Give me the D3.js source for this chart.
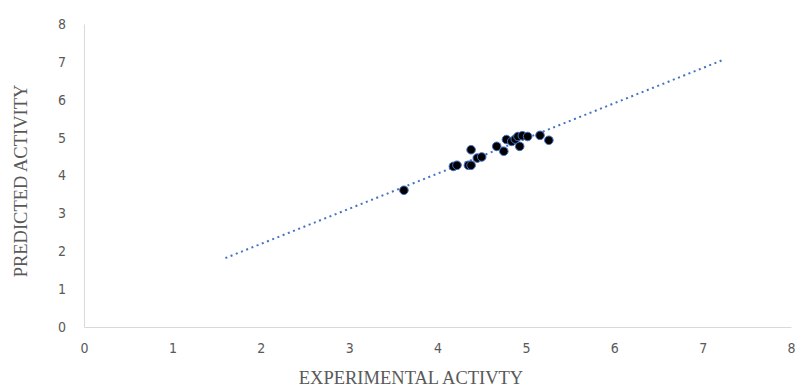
<!DOCTYPE html>
<html>
<head>
<meta charset="utf-8">
<script src="https://cdn.jsdelivr.net/npm/d3@7"></script>
<style>
  body { margin: 0; background: #fff; }
  .tick text { fill: #595959; font-family: "Liberation Sans Narrow", "DejaVu Sans Condensed", sans-serif; font-size: 14px; }
  .title { fill: #595959; font-family: "Liberation Serif", serif; font-size: 18.5px; }
</style>
</head>
<body>
<script>
// experimental vs predicted activity
var experimental = [3.62, 4.18, 4.22, 4.35, 4.38, 4.38, 4.45, 4.50, 4.67, 4.75, 4.78, 4.84, 4.88, 4.91, 4.93, 4.96, 5.02, 5.16, 5.26];
var predicted    = [3.61, 4.24, 4.27, 4.27, 4.27, 4.68, 4.46, 4.49, 4.77, 4.64, 4.95, 4.90, 4.96, 5.03, 4.77, 5.05, 5.03, 5.06, 4.93];

// linear trendline as shown, with forecast range
var trendSlope = 0.929, trendIntercept = 0.334;
var trendRange = [1.6, 7.22];

var xTicks = [0, 1, 2, 3, 4, 5, 6, 7, 8];
var yTicks = [0, 1, 2, 3, 4, 5, 6, 7, 8];

var W = 795, H = 389;
var margin = {top: 24, right: 4, bottom: 62, left: 84};
var width = W - margin.left - margin.right,
    height = H - margin.top - margin.bottom;

var x = d3.scaleLinear().domain([0, 8]).range([0, width]);
var y = d3.scaleLinear().domain([0, 8]).range([height, 0]);

var svg = d3.select("body").append("svg")
  .attr("width", W).attr("height", H);
var g = svg.append("g")
  .attr("transform", "translate(" + margin.left + "," + margin.top + ")");

// axes
var xAxis = g.append("g")
  .attr("transform", "translate(0," + height + ")")
  .call(d3.axisBottom(x).tickValues(xTicks).tickSize(0).tickPadding(16));
var yAxis = g.append("g")
  .call(d3.axisLeft(y).tickValues(yTicks).tickSize(0).tickPadding(18));
xAxis.select(".domain").attr("stroke", "#d9d9d9");
yAxis.select(".domain").attr("stroke", "#d9d9d9");

// trendline
var trend = trendRange.map(function(v) { return [v, trendSlope * v + trendIntercept]; });
g.append("path")
  .datum(trend)
  .attr("fill", "none")
  .attr("stroke", "#4472c4")
  .attr("stroke-width", 2)
  .attr("stroke-dasharray", "2 3.6")
  .attr("d", d3.line().x(function(d) { return x(d[0]); }).y(function(d) { return y(d[1]); }));

// points
g.selectAll("circle")
  .data(experimental)
  .enter().append("circle")
  .attr("cx", function(d) { return x(d); })
  .attr("cy", function(d, i) { return y(predicted[i]); })
  .attr("r", 4.3)
  .attr("fill", "#000")
  .attr("stroke", "#4472c4")
  .attr("stroke-width", 1);

// axis titles
svg.append("text").attr("class", "title")
  .attr("x", 411).attr("y", 384)
  .attr("text-anchor", "middle")
  .text("EXPERIMENTAL ACTIVTY");
svg.append("text").attr("class", "title")
  .attr("transform", "translate(27,181) rotate(-90)")
  .attr("text-anchor", "middle")
  .text("PREDICTED ACTIVITY");
</script>
</body>
</html>
